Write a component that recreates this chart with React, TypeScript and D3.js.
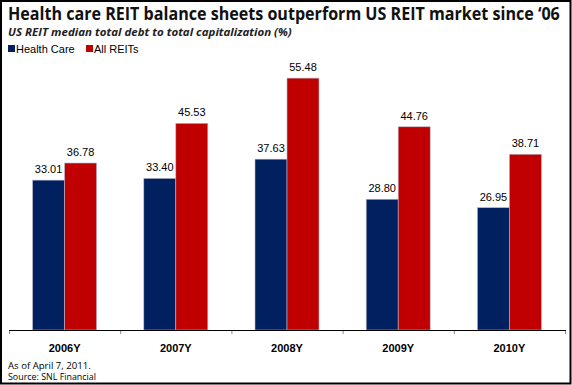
import React, { useLayoutEffect, useRef, useState } from "react";
import * as d3 from "d3";

const categories = ["2006Y", "2007Y", "2008Y", "2009Y", "2010Y"];
const seriesNames = ["Health Care", "All REITs"];
const healthCare = [33.01, 33.4, 37.63, 28.8, 26.95];
const allReits = [36.78, 45.53, 55.48, 44.76, 38.71];
const colors = ["#002060", "#C00000"];

function FitText(props: { x: number; y: number; width: number; children: string; [k: string]: any }) {
  const { x, y, width, children, ...rest } = props;
  const ref = useRef<SVGTextElement>(null);
  const [sx, setSx] = useState(1);
  useLayoutEffect(() => {
    if (ref.current) {
      const w = ref.current.getComputedTextLength();
      if (w > 0) setSx(width / w);
    }
  }, [width, children]);
  return (
    <text ref={ref} transform={`translate(${x},${y}) scale(${sx},1)`} {...rest}>
      {children}
    </text>
  );
}

export default function App() {
  const W = 572, H = 385;
  const x = d3.scaleBand<string>().domain(categories).range([9, 565]);
  const y = d3.scaleLinear().domain([0, 60]).range([330, 57.6]);
  const barW = 32;
  const series = [healthCare, allReits];
  return (
    <svg width={W} height={H} style={{ position: "absolute", left: 0, top: 0 }}>
      <rect x={0} y={0} width={W} height={H} fill="#fff" />
      <rect x={1} y={1} width={W - 2.5} height={H - 2.5} fill="none" stroke="#000" strokeWidth={2} />
      <FitText x={8} y={20} width={552} fontFamily="'Open Sans', sans-serif" fontWeight="bold" fontSize={17}
        fill="#111">
        Health care REIT balance sheets outperform US REIT market since ‘06
      </FitText>
      <FitText x={8} y={36} width={284} fontFamily="'Open Sans', sans-serif" fontWeight="bold" fontStyle="italic"
        fontSize={10.5} fill="#222">
        US REIT median total debt to total capitalization (%)
      </FitText>
      {seriesNames.map((n, i) => (
        <g key={n} transform={`translate(${[8, 86][i]},0)`}>
          <rect x={0} y={45} width={7} height={7} fill={colors[i]} />
          <text x={8} y={52.5} fontFamily="'Liberation Sans', Arial, sans-serif" fontSize={11} fill="#000">{n}</text>
        </g>
      ))}
      {categories.map((c, ci) => {
        const cx = (x(c) as number) + x.bandwidth() / 2;
        return (
          <g key={c}>
            {series.map((s, si) => {
              const bx = cx - barW + si * barW;
              const v = s[ci];
              return (
                <g key={si}>
                  <rect x={bx} y={y(v)} width={barW} height={y(0) - y(v)} fill={colors[si]}
                    stroke="#b8b8c8" strokeWidth={0.6} />
                  <text x={bx + barW / 2} y={y(v) - 7} textAnchor="middle"
                    fontFamily="'Liberation Sans', Arial, sans-serif" fontSize={11} fill="#000">
                    {v.toFixed(2)}
                  </text>
                </g>
              );
            })}
            <text x={cx} y={352} textAnchor="middle" fontFamily="'Liberation Sans', Arial, sans-serif"
              fontWeight="bold" fontSize={11} fill="#000">{c}</text>
          </g>
        );
      })}
      <line x1={9} x2={566} y1={330.5} y2={330.5} stroke="#000" strokeWidth={1} />
      {[...categories.map((c) => x(c) as number), 565].map((t, i) => (
        <line key={i} x1={t + 0.5} x2={t + 0.5} y1={331} y2={334} stroke="#888" />
      ))}
      <FitText x={8} y={369} width={83} fontFamily="'Open Sans', sans-serif" fontSize={8.5} fill="#000">
        As of April 7, 2011.
      </FitText>
      <FitText x={8} y={380} width={88} fontFamily="'Open Sans', sans-serif" fontSize={8.5} fill="#000">
        Source: SNL Financial
      </FitText>
    </svg>
  );
}
